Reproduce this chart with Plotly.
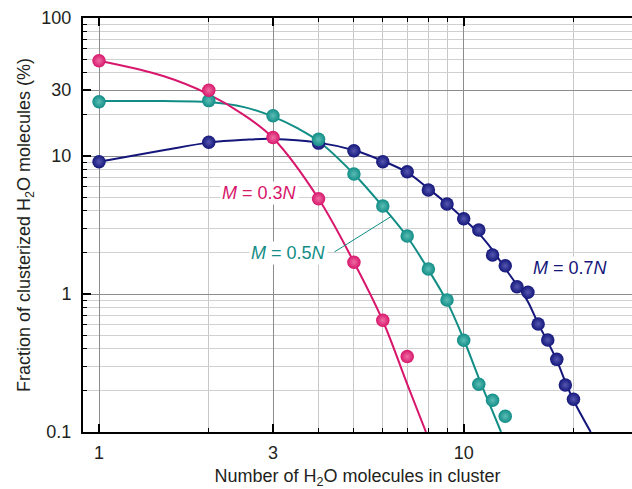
import numpy as np
import plotly.graph_objects as go

# ---------------- data ----------------
# measured points
x_03 = [1, 2, 3, 4, 5, 6, 7]
y_03 = [49, 30, 13.6, 4.9, 1.70, 0.645, 0.352]

x_05 = [1, 2, 3, 4, 5, 6, 7, 8, 9, 10, 11, 12, 13]
y_05 = [24.7, 25.2, 19.6, 13.2, 7.4, 4.34, 2.63, 1.52, 0.905, 0.462, 0.222, 0.17, 0.13]

x_07 = [1, 2, 4, 5, 6, 7, 8, 9, 10, 11, 12, 13, 14, 15, 16, 17, 18, 19, 20]
y_07 = [9.1, 12.6, 12.4, 10.9, 9.1, 7.7, 5.67, 4.49, 3.51, 2.91, 1.92, 1.60,
        1.13, 1.03, 0.606, 0.464, 0.336, 0.219, 0.173]

# fitted curves
cx_03 = [1, 1.5, 2, 2.5, 3, 4, 5, 6, 7, 7.88]
cy_03 = [49, 38, 28, 19.8, 13.5, 4.9, 1.70, 0.64, 0.222, 0.1]

cx_05 = [1, 1.5, 2, 2.5, 3, 3.5, 4, 5, 6, 7, 8, 9, 10, 11, 12, 12.66]
cy_05 = [25, 25, 24.6, 22.6, 19.3, 15.9, 12.8, 7.4, 4.3, 2.6, 1.5, 0.88, 0.47, 0.246, 0.141, 0.1]

cx_07 = [1, 1.5, 2, 2.5, 3, 4, 5, 6, 7, 8, 9, 10, 11, 12, 13, 14, 15, 16, 17, 18, 19, 20, 22.3]
cy_07 = [9.1, 11.0, 12.5, 13.1, 13.3, 12.5, 11.0, 9.2, 7.6, 5.8, 4.5, 3.5, 2.75, 2.08,
         1.53, 1.16, 0.88, 0.61, 0.45, 0.33, 0.231, 0.17, 0.1]

labels = ["<i>M</i> = 0.3<i>N</i>", "<i>M</i> = 0.5<i>N</i>", "<i>M</i> = 0.7<i>N</i>"]

x_tickvals = [1, 3, 10]
x_ticktext = ["1", "3", "10"]
x_minor = [2, 4, 5, 6, 7, 8, 9, 20]
y_tickvals = [0.1, 1, 10, 30, 100]
y_ticktext = ["0.1", "1", "10", "30", "100"]
y_minor = [0.2, 0.3, 0.4, 0.5, 0.6, 0.7, 0.8, 0.9, 2, 3, 4, 5, 6, 7, 8, 9,
           20, 40, 50, 60, 70, 80, 90]

# ---------------- styles ----------------
PINK = "#d8166b"
TEAL = "#118d86"
NAVY = "#14167a"
PINK_HI = "#ee6ea4"
TEAL_HI = "#5cbdb6"
NAVY_HI = "#5557b0"

fig = go.Figure()

for cx, cy, col in [(cx_07, cy_07, NAVY), (cx_05, cy_05, TEAL), (cx_03, cy_03, PINK)]:
    fig.add_trace(go.Scatter(x=cx, y=cy, mode="lines",
                             line=dict(color=col, width=2, shape="spline", smoothing=1.0),
                             hoverinfo="skip"))

for xs, ys, col, hi in [(x_07, y_07, NAVY, NAVY_HI), (x_05, y_05, TEAL, TEAL_HI),
                        (x_03, y_03, PINK, PINK_HI)]:
    fig.add_trace(go.Scatter(x=xs, y=ys, mode="markers",
                             marker=dict(size=13.5, color=col,
                                         gradient=dict(type="radial", color=hi),
                                         line=dict(width=0))))

FONT = "Liberation Sans, Arial, Helvetica, sans-serif"

fig.update_layout(
    width=632, height=489,
    margin=dict(l=83, r=0, t=18, b=57, autoexpand=False),
    plot_bgcolor="white", paper_bgcolor="white",
    showlegend=False,
    font=dict(family=FONT, size=18, color="#231f20"),
)

fig.update_xaxes(
    type="log", range=[-0.0439, 1.4615], automargin=False,
    tickmode="array", tickvals=x_tickvals, ticktext=x_ticktext,
    ticks="inside", ticklen=8, tickwidth=1.5, tickcolor="black",
    ticklabelstandoff=3,
    showline=True, linecolor="black", linewidth=2, mirror="ticks",
    showgrid=True, gridcolor="#8c8c8c", gridwidth=1, zeroline=False,
    minor=dict(tickmode="array", tickvals=x_minor, ticks="inside", ticklen=4,
               tickwidth=1.2, tickcolor="black", showgrid=True,
               gridcolor="#c8c8c8", gridwidth=1),
    title=dict(text="Number of H<sub>2</sub>O molecules in cluster",
               font=dict(size=18), standoff=11),
)

fig.update_yaxes(
    type="log", range=[-1, 2], automargin=False,
    tickmode="array", tickvals=y_tickvals, ticktext=y_ticktext,
    ticks="inside", ticklen=8, tickwidth=1.5, tickcolor="black",
    ticklabelstandoff=6,
    showline=True, linecolor="black", linewidth=2, mirror=False,
    showgrid=True, gridcolor="#8c8c8c", gridwidth=1, zeroline=False,
    minor=dict(tickmode="array", tickvals=y_minor, ticks="inside", ticklen=4,
               tickwidth=1.2, tickcolor="black", showgrid=True,
               gridcolor="#d0d0d0", gridwidth=1),
    title=dict(text="Fraction of clusterized H<sub>2</sub>O molecules (%)",
               font=dict(size=18), standoff=6),
)

# curve labels
label_pos = [(2.75, 5.39, PINK), (3.30, 1.98, TEAL), (19.6, 1.54, NAVY)]
for txt, (lx, ly, col) in zip(labels, label_pos):
    fig.add_annotation(x=np.log10(lx), y=np.log10(ly), xref="x", yref="y",
                       text=txt, showarrow=False, bgcolor="white", borderpad=1,
                       font=dict(size=18, color=col, family=FONT))

# leader line for the M = 0.5N label
fig.add_annotation(x=np.log10(6.35), y=np.log10(3.67), xref="x", yref="y",
                   ax=-58.7, ay=36.7, text="", showarrow=True, arrowhead=0,
                   arrowwidth=1, arrowcolor=TEAL, standoff=0, startstandoff=0)

fig.write_html("out.html",
               config={"displayModeBar": False},
               post_script="document.body.style.margin='0';"
                           "document.body.style.overflow='hidden';")
